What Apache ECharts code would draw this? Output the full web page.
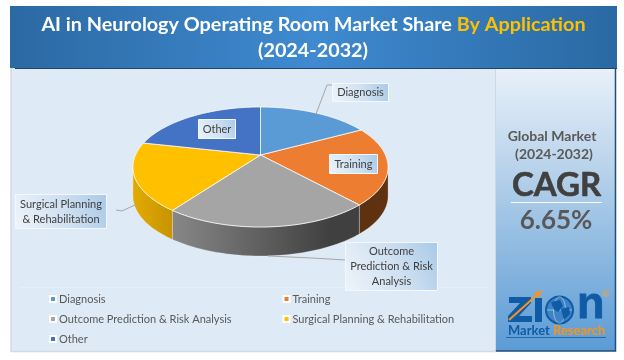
<!DOCTYPE html>
<html>
<head>
<meta charset="utf-8">
<style>
  html, body { margin: 0; padding: 0; background: #fff; }
  #chart { width: 624px; height: 360px; }
</style>
</head>
<body>
<div id="chart"></div>
<script src="https://cdn.jsdelivr.net/npm/echarts@6/dist/echarts.min.js"></script>
<script>
const categories = ['Diagnosis', 'Training', 'Outcome Prediction & Risk Analysis', 'Surgical Planning & Rehabilitation', 'Other']
const shares = [17.1, 21.1, 21.8, 18.4, 21.5]
const colors = ['#5b9bd5', '#ed7d31', '#a5a5a5', '#ffc000', '#4472c4']
const titleLine1 = 'AI in Neurology Operating Room Market Share '
const titleAccent = 'By Application'
const titleLine2 = '(2024-2032)'
const cagrPeriod = ['Global Market', '(2024-2032)']
const cagrValue = '6.65%'

const FONT = 'Lato, "Open Sans", sans-serif'

// pie plane, seen in perspective: apex sits above the middle of the ellipse
const CX = 260.5
const CY = 155
const A = 125
const B = 57.6
const K = 0.2
const DEPTH = 29

function project(deg, depth) {
  const t = deg * Math.PI / 180
  const u = Math.sin(t)
  const v = -Math.cos(t)
  const w = 1 - K * v
  return [CX + A * u / w, CY + B * v / w + (depth || 0)]
}

function arc(from, to, depth) {
  const pts = []
  const steps = Math.max(2, Math.ceil(Math.abs(to - from) / 1.5))
  for (let i = 0; i <= steps; i++) {
    pts.push(project(from + (to - from) * i / steps, depth))
  }
  return pts
}

const total = shares.reduce((a, b) => a + b, 0)
const wallFills = [
  null,
  { x: 300, x2: 390, stops: ['#5a2f0e', '#5f3311'] },
  { x: 173, x2: 330, stops: ['#878787', '#404040'] },
  { x: 134, x2: 175, stops: ['#e2aa00', '#c59200'] },
  null
]
// silhouette of the pie's front edge
const FRONT_FROM = 180 - Math.asin(Math.sqrt(1 - K * K)) * 180 / Math.PI
const FRONT_TO = 360 - FRONT_FROM

function sliceRenderer(index) {
  return function (params, api) {
    const before = shares.slice(0, index).reduce((a, b) => a + b, 0)
    const start = before / total * 360
    const end = start + api.value(0) / total * 360
    const children = []

    const wallFrom = Math.max(start, FRONT_FROM)
    const wallTo = Math.min(end, FRONT_TO)
    if (wallFrom < wallTo && wallFills[index]) {
      const f = wallFills[index]
      children.push({
        type: 'polygon',
        shape: { points: arc(wallFrom, wallTo, 0).concat(arc(wallTo, wallFrom, DEPTH)) },
        style: {
          fill: {
            type: 'linear', x: f.x, y: 0, x2: f.x2, y2: 0, global: true,
            colorStops: [{ offset: 0, color: f.stops[0] }, { offset: 1, color: f.stops[1] }]
          },
          stroke: 'rgba(255,255,255,0.45)',
          lineWidth: 0.6
        }
      })
    }
    children.push({
      type: 'polygon',
      shape: { points: [[CX, CY]].concat(arc(start, end, 0)) },
      style: { fill: colors[index], stroke: 'rgba(255,255,255,0.85)', lineWidth: 0.9 }
    })
    return { type: 'group', children: children }
  }
}

// callout chips: [lines, x, y, w, h]
const chips = [
  [['Diagnosis'], 332, 83, 56, 18],
  [['Training'], 329, 154, 48, 19],
  [['Other'], 198, 119, 37, 19],
  [['Surgical Planning', '& Rehabilitation'], 15, 194, 91, 34],
  [['Outcome', 'Prediction & Risk', 'Analysis'], 345, 242, 92, 48]
]
const leaders = [
  [[316, 114], [327, 85], [332, 85]],
  [[137, 204], [122, 211], [116, 210]],
  [[268, 256], [312, 258], [345, 260]]
]

function linear(x, y, x2, y2, stops) {
  return { type: 'linear', x: x, y: y, x2: x2, y2: y2, colorStops: stops.map(s => ({ offset: s[0], color: s[1] })) }
}

const LOGO_BLUE = '#0f5ba6'
const LOGO_ORANGE = '#f7941d'

const graphics = [
  // backgrounds
  { type: 'rect', z: -10, shape: { x: 11, y: 68, width: 485, height: 283.5 }, style: { fill: '#deeaf6', stroke: '#d5dae0', lineWidth: 1.5 } },
  { type: 'rect', z: -9, shape: { x: 10, y: 6, width: 607, height: 62 },
    style: { fill: linear(0, 0, 1, 0, [[0, '#2b69a3'], [0.5, '#3f8ad0'], [1, '#2a69a3']]) } },
  { type: 'line', z: -8, shape: { x1: 15, y1: 68.5, x2: 617, y2: 68.5 }, style: { stroke: '#1f4468', lineWidth: 1 } },
  { type: 'rect', z: -9, shape: { x: 495.5, y: 69, width: 120.5, height: 282 },
    style: { fill: linear(0, 0, 0, 1, [[0, '#e8f0f9'], [0.35, '#b9d3eb'], [1, '#5b9bd5']]), lineWidth: 0 } },
  { type: 'polyline', z: -8, shape: { points: [[615.5, 69], [615.5, 351], [496, 351]] }, style: { stroke: '#1f4e79', fill: null, lineWidth: 1.5 } },
  { type: 'line', z: -8, shape: { x1: 495.5, y1: 69, x2: 495.5, y2: 350 }, style: { stroke: '#d3d8de', lineWidth: 1 } },
  { type: 'line', z: -8, shape: { x1: 20, y1: 287.5, x2: 488, y2: 287.5 }, style: { stroke: '#e6eef7', lineWidth: 1 } },

  // title
  { type: 'text', z: 5, x: 313.5, y: 25,
    style: {
      text: '{w|' + titleLine1 + '}{y|' + titleAccent + '}',
      align: 'center', verticalAlign: 'middle',
      rich: {
        w: { fill: '#fff', font: 'bold 19.8px ' + FONT },
        y: { fill: '#ffc000', font: 'bold 19.8px ' + FONT }
      }
    } },
  { type: 'text', z: 5, x: 313, y: 51,
    style: { text: titleLine2, fill: '#fff', font: 'bold 19.8px ' + FONT, align: 'center', verticalAlign: 'middle' } },

  // CAGR panel
  { type: 'text', z: 5, x: 552, y: 136, style: { text: cagrPeriod[0], fill: '#595959', font: 'bold 14px ' + FONT, align: 'center', verticalAlign: 'middle' } },
  { type: 'text', z: 5, x: 554, y: 154, style: { text: cagrPeriod[1], fill: '#595959', font: 'bold 14px ' + FONT, align: 'center', verticalAlign: 'middle' } },
  { type: 'text', z: 5, x: 556.5, y: 185, style: { text: 'CAGR', fill: '#404040', stroke: '#404040', lineWidth: 0.6, font: 'bold 33px ' + FONT, align: 'center', verticalAlign: 'middle' } },
  { type: 'line', z: 5, shape: { x1: 511, y1: 202.5, x2: 602, y2: 202.5 }, style: { stroke: '#fff', lineWidth: 1 } },
  { type: 'text', z: 5, x: 556, y: 221, style: { text: cagrValue, fill: '#595959', font: 'bold 26px ' + FONT, align: 'center', verticalAlign: 'middle' } },

  // logo
  { type: 'polygon', z: 5, shape: { points: [[509, 297], [531, 297], [531, 303], [519, 316], [532, 316], [532, 322], [508, 322], [508, 316], [520, 303], [509, 303]] }, style: { fill: LOGO_BLUE } },
  { type: 'rect', z: 5, shape: { x: 535, y: 298, width: 7, height: 24 }, style: { fill: LOGO_BLUE } },
  { type: 'circle', z: 5, shape: { cx: 559.5, cy: 310, r: 13.5 }, style: { fill: '#3d83c6', stroke: LOGO_BLUE, lineWidth: 2 } },
  { type: 'ellipse', z: 6, shape: { cx: 559.5, cy: 310, rx: 6, ry: 13 }, style: { fill: null, stroke: '#bcd6ee', lineWidth: 0.7 } },
  { type: 'line', z: 6, shape: { x1: 547, y1: 310, x2: 572, y2: 310 }, style: { stroke: '#bcd6ee', lineWidth: 0.7 } },
  { type: 'polygon', z: 6, shape: { points: [[551, 302], [560, 300], [563, 306], [558, 312], [554, 310]] }, style: { fill: LOGO_BLUE } },
  { type: 'polygon', z: 6, shape: { points: [[561, 309], [569, 307], [570, 314], [564, 320]] }, style: { fill: LOGO_BLUE } },
  { type: 'text', z: 5, x: 577, y: 306, style: { text: 'n', fill: LOGO_BLUE, stroke: LOGO_BLUE, lineWidth: 0.8, font: 'bold 45px "Liberation Sans"', verticalAlign: 'middle' } },
  { type: 'line', z: 7, shape: { x1: 509, y1: 320, x2: 539, y2: 293 }, style: { stroke: LOGO_ORANGE, lineWidth: 2 } },
  { type: 'polygon', z: 7, shape: { points: [[542, 290], [539, 298], [534, 293]] }, style: { fill: LOGO_ORANGE } },
  { type: 'text', z: 5, x: 602, y: 294, style: { text: '®', fill: '#f7a33c', font: '9px ' + FONT, verticalAlign: 'middle' } },
  { type: 'text', z: 5, x: 508, y: 331, style: { text: 'Market', fill: LOGO_BLUE, font: 'bold 13px ' + FONT, verticalAlign: 'middle' } },
  { type: 'text', z: 5, x: 553, y: 331, style: { text: 'Research', fill: LOGO_ORANGE, font: 'bold 13px ' + FONT, verticalAlign: 'middle' } },
  { type: 'line', z: 5, shape: { x1: 506, y1: 337.5, x2: 606, y2: 337.5 }, style: { stroke: LOGO_BLUE, lineWidth: 0.8 } }
]

leaders.forEach(points => {
  graphics.push({ type: 'polyline', z: 20, shape: { points: points }, style: { stroke: '#a6a6a6', fill: null, lineWidth: 1 } })
})

chips.forEach(c => {
  graphics.push({
    type: 'rect', z: 21,
    shape: { x: c[1] + 0.5, y: c[2] + 0.5, width: c[3], height: c[4] },
    style: {
      fill: linear(0, 1, 1, 0, [[0, '#eef4fa'], [0.55, '#cfe0f1'], [1, '#a8c9e7']]),
      stroke: '#f4f8fc', lineWidth: 1
    }
  })
  graphics.push({
    type: 'text', z: 22, x: c[1] + c[3] / 2 + 0.5, y: c[2] + c[4] / 2 + 0.5,
    style: {
      text: c[0].join('\n'), fill: '#404040', font: '11px ' + FONT,
      lineHeight: 15, align: 'center', verticalAlign: 'middle'
    }
  })
})

const chart = echarts.init(document.getElementById('chart'), null, { renderer: 'canvas' })

function legendOf(names, left) {
  return {
    data: names, left: left, top: 292,
    orient: 'vertical', itemGap: 6,
    itemWidth: 6, itemHeight: 6, padding: 0,
    icon: 'rect',
    itemStyle: { borderColor: '#fff', borderWidth: 2 },
    textStyle: { color: '#595959', fontFamily: FONT, fontSize: 11, padding: [0, 0, 0, -2], lineHeight: 14 }
  }
}

chart.setOption({
  animation: false,
  color: colors,
  legend: [
    legendOf([categories[0], categories[2], categories[4]], 49),
    legendOf([categories[1], categories[3]], 282.5)
  ],
  graphic: graphics,
  series: categories.map((name, i) => ({
    name: name,
    type: 'custom',
    coordinateSystem: 'none',
    itemStyle: { color: colors[i] },
    renderItem: sliceRenderer(i),
    data: [[shares[i]]],
    z: 2 + (i === 0 || i === 4 ? 1 : 0)
  }))
})

window.addEventListener('resize', () => chart.resize())
</script>
</body>
</html>
